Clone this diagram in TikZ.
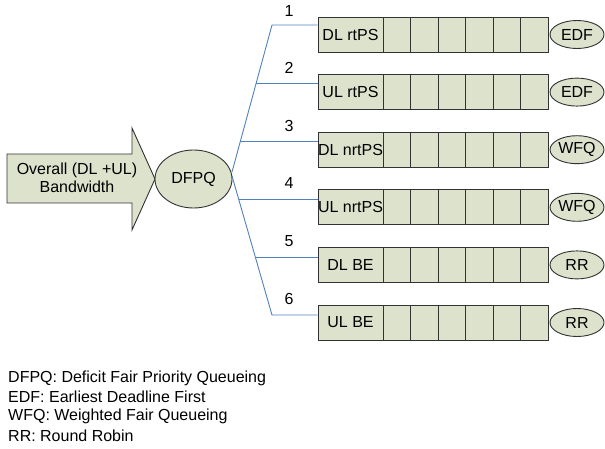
\documentclass[tikz,border=0pt]{standalone}
\usepackage{fontspec}
\setmainfont{Liberation Sans}
\usetikzlibrary{calc,shapes.geometric}

\definecolor{boxfill}{RGB}{221,226,204}
\definecolor{boxline}{RGB}{50,50,50}
\definecolor{linkblue}{RGB}{79,129,189}

\tikzset{
  txt/.style={font=\fontsize{16}{19}\selectfont, inner sep=0pt},
  qlabel/.style={txt, draw=boxline, fill=boxfill, line width=0.9pt,
    minimum width=65pt, minimum height=35pt},
  qcell/.style={draw=boxline, fill=boxfill, line width=0.9pt, inner sep=0pt,
    minimum width=27.5pt, minimum height=35pt},
  sched/.style={txt, ellipse, draw=boxline, fill=boxfill, line width=0.9pt,
    minimum width=54pt, minimum height=28pt},
  link/.style={draw=linkblue, line width=0.9pt},
}

\begin{document}
\begin{tikzpicture}[x=1pt, y=-1pt]
  \useasboundingbox (0,0) rectangle (605,449);

  % input bandwidth arrow
  \draw[boxline, fill=boxfill, line width=0.9pt]
    (7,154) -- (132,154) -- (132,128) -- (155,179) -- (132,230)
    -- (132,203) -- (7,203) -- cycle;
  \node[txt, align=center] (bw) at (77,178)
    {Overall (DL +UL)\\[-1pt]Bandwidth};

  % central scheduler
  \node[txt, ellipse, draw=boxline, fill=boxfill, line width=0.9pt,
        minimum width=77pt, minimum height=58pt] (dfpq) at (193.5,179) {DFPQ};

  % the six service-class queues
  \foreach \i/\lab/\sch in {1/DL rtPS/EDF, 2/UL rtPS/EDF, 3/DL nrtPS/WFQ,
                            4/UL nrtPS/WFQ, 5/DL BE/RR, 6/UL BE/RR} {
    \pgfmathsetmacro{\cy}{34.5+57.6*(\i-1)}
    \node[qlabel] (q\i) at (350.5,\cy) {\lab};
    \foreach \j in {1,...,6} {
      \pgfmathsetmacro{\cx}{383+27.5*(\j-0.5)}
      \node[qcell] (q\i c\j) at (\cx,\cy) {};
    }
    \node[sched] (s\i) at (577,\cy) {\sch};
  }

  % fan-out links from DFPQ to the queues
  \coordinate (upS) at (232,172);
  \coordinate (upE) at (272,25);
  \coordinate (loS) at (232,176);
  \coordinate (loE) at (272,315);
  \coordinate (b2) at ($(upS)!0.605!(upE)$);
  \coordinate (b3) at ($(upS)!0.211!(upE)$);
  \coordinate (b4) at ($(loS)!0.166!(loE)$);
  \coordinate (b5) at ($(loS)!0.583!(loE)$);

  \draw[link] (upS) -- (upE) -- (upE -| q1.west);
  \draw[link] (loS) -- (loE) -- (loE -| q6.west);
  \draw[link] (b2) -- (b2 -| q2.west);
  \draw[link] (b3) -- (b3 -| q3.west);
  \draw[link] (b4) -- (b4 -| q4.west);
  \draw[link] (b5) -- (b5 -| q5.west);

  % link numbers
  \foreach \i in {1,...,6} {
    \pgfmathsetmacro{\ny}{10.5+57.6*(\i-1)}
    \node[txt] (n\i) at (289,\ny) {\i};
  }

  % legend
  \node[txt, anchor=west] (l1) at (8,378) {DFPQ: Deficit Fair Priority Queueing};
  \node[txt, anchor=west] (l2) at (8,397) {EDF: Earliest Deadline First};
  \node[txt, anchor=west] (l3) at (8,416.5) {WFQ: Weighted Fair Queueing};
  \node[txt, anchor=west] (l4) at (8,436) {RR: Round Robin};
\end{tikzpicture}
\end{document}
